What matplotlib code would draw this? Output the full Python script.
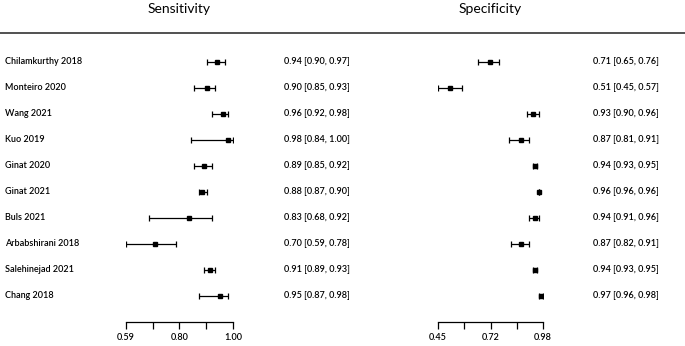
import matplotlib
matplotlib.use("Agg")
import matplotlib.pyplot as plt
import matplotlib.transforms as mtransforms
from matplotlib.lines import Line2D
import numpy as np

studies = ["Chilamkurthy 2018", "Monteiro 2020", "Wang 2021", "Kuo 2019", "Ginat 2020",
           "Ginat 2021", "Buls 2021", "Arbabshirani 2018", "Salehinejad 2021", "Chang 2018"]
sens = [0.94, 0.90, 0.96, 0.98, 0.89, 0.88, 0.83, 0.70, 0.91, 0.95]
sens_lo = [0.90, 0.85, 0.92, 0.84, 0.85, 0.87, 0.68, 0.59, 0.89, 0.87]
sens_hi = [0.97, 0.93, 0.98, 1.00, 0.92, 0.90, 0.92, 0.78, 0.93, 0.98]
spec = [0.71, 0.51, 0.93, 0.87, 0.94, 0.96, 0.94, 0.87, 0.94, 0.97]
spec_lo = [0.65, 0.45, 0.90, 0.81, 0.93, 0.96, 0.91, 0.82, 0.93, 0.96]
spec_hi = [0.76, 0.57, 0.96, 0.91, 0.95, 0.96, 0.96, 0.91, 0.95, 0.98]
sens_ticks = [0.59, 0.80, 1.00]
spec_ticks = [0.45, 0.72, 0.98]

plt.rcParams['font.family'] = ['Lato', 'DejaVu Sans']
plt.rcParams['font.weight'] = 'semibold'
W, H = 685, 346
fig = plt.figure(figsize=(W / 100, H / 100), dpi=100)

def px_axes(x0, x1, y_top, y_bot):
    return fig.add_axes([x0 / W, 1 - y_bot / H, (x1 - x0) / W, (y_bot - y_top) / H])

n = len(studies)
rows = np.arange(n)
ytop_idx = (33 - 62) / 26.0
ybot_idx = (322 - 62) / 26.0

def panel(x0, x1, vals, lo, hi, ticks, title, tx):
    ax = px_axes(x0, x1, 33, 322)
    vals = np.array(vals); lo = np.array(lo); hi = np.array(hi)
    ax.errorbar(vals, rows, xerr=[vals - lo, hi - vals], fmt='s', color='black',
                ms=3.0, lw=0.9, capsize=2.2, capthick=0.9, elinewidth=0.9)
    ax.set_xlim(ticks[0], ticks[-1])
    ax.set_ylim(ybot_idx, ytop_idx)
    for s in ['top', 'right', 'left']:
        ax.spines[s].set_visible(False)
    ax.spines['bottom'].set_linewidth(0.9)
    tk = np.linspace(ticks[0], ticks[-1], 5)
    ax.set_xticks(tk)
    ax.set_xticklabels([f"{ticks[0]:.2f}", "", f"{ticks[1]:.2f}", "", f"{ticks[2]:.2f}"], fontsize=6.5)
    ax.tick_params(axis='x', length=5, width=0.9, pad=3, direction='out')
    ax.set_yticks([])
    ax.patch.set_visible(False)
    trans = mtransforms.blended_transform_factory(fig.transFigure, ax.transData)
    for i in range(n):
        ax.text(tx / W, rows[i], f"{vals[i]:.2f} [{lo[i]:.2f}, {hi[i]:.2f}]", transform=trans,
                fontsize=6.5, va='center', ha='left', clip_on=False)
    fig.text((x0 + x1) / 2 / W + 0.0, 1 - 9 / H, title, fontsize=10, ha='center', va='center',
             fontweight='normal')
    return ax, trans

ax1, tr1 = panel(126, 233, sens, sens_lo, sens_hi, sens_ticks, "Sensitivity", 284)
ax2, tr2 = panel(438, 543, spec, spec_lo, spec_hi, spec_ticks, "Specificity", 593)

for i in range(n):
    ax1.text(5 / W, rows[i], studies[i], transform=tr1, fontsize=6.5, va='center', ha='left')

fig.add_artist(Line2D([0, 1], [1 - 33 / H, 1 - 33 / H], transform=fig.transFigure,
                      color='#333333', lw=1.2))

fig.savefig("out.png", dpi=100)
